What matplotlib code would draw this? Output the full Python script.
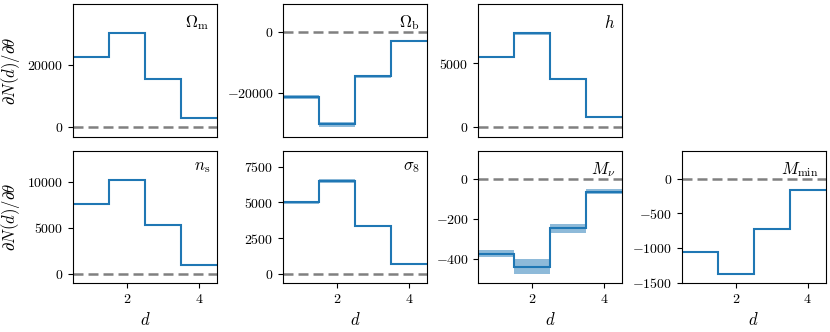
import matplotlib
matplotlib.use("Agg")
import matplotlib.pyplot as plt
from matplotlib.ticker import FuncFormatter
import numpy as np

plt.rcParams['font.family'] = 'serif'
plt.rcParams['font.serif'] = ['cmr10', 'DejaVu Serif']
plt.rcParams['mathtext.fontset'] = 'cm'
plt.rcParams['axes.formatter.use_mathtext'] = True

# bin edges of d
edges = [0.5, 1.5, 2.5, 3.5, 4.5]

labels = [r'$\Omega_{\rm m}$', r'$\Omega_{\rm b}$', r'$h$',
          r'$n_{\rm s}$', r'$\sigma_8$', r'$M_\nu$', r'$M_{\rm min}$']

deriv_Om = [22470, 30300, 15500, 3080]
err_Om = [200, 350, 200, 60]
deriv_Ob = [-21300, -30450, -14570, -2980]
err_Ob = [600, 900, 500, 150]
deriv_h = [5515, 7340, 3800, 780]
err_h = [60, 110, 50, 20]
deriv_ns = [7580, 10180, 5310, 1010]
err_ns = [90, 150, 80, 20]
deriv_s8 = [5010, 6480, 3350, 700]
err_s8 = [90, 150, 80, 20]
deriv_Mnu = [-372, -436, -245, -63]
err_Mnu = [18, 37, 22, 12]
deriv_Mmin = [-1055, -1375, -720, -155]
err_Mmin = [8, 10, 6, 3]

derivs = [deriv_Om, deriv_Ob, deriv_h, deriv_ns, deriv_s8, deriv_Mnu, deriv_Mmin]
errs = [err_Om, err_Ob, err_h, err_ns, err_s8, err_Mnu, err_Mmin]
ylims = [(-3000, 39500), (-34570, 9270), (-734, 9610), (-1010, 13360),
         (-650, 8616), (-519, 141), (-1510, 410)]
yticks = [[0, 20000], [-20000, 0], [0, 5000], [0, 5000, 10000],
          [0, 2500, 5000, 7500], [-400, -200, 0], [-1500, -1000, -500, 0]]

fmt = FuncFormatter(lambda v, pos: r'$%d$' % round(v))

fig = plt.figure(figsize=(8.3, 3.32), dpi=100)
W, H = 830, 332
lefts = [73, 283.3, 478.3, 681.7]
tops = [4.3, 150.7]
aw, ah = 144, 132.5

slots = [(0, 0), (0, 1), (0, 2), (1, 0), (1, 1), (1, 2), (1, 3)]
for k, (r, c) in enumerate(slots):
    ax = fig.add_axes([lefts[c] / W, 1 - (tops[r] + ah) / H, aw / W, ah / H])
    y = np.array(derivs[k])
    e = np.array(errs[k])
    ax.stairs(y + e, edges, baseline=y - e, fill=True, color='C0', alpha=0.5, lw=0)
    ax.stairs(y, edges, color='C0', lw=1.5, baseline=None)
    ax.axhline(0, color='gray', ls=(0, (4, 2)), lw=1.8)
    ax.set_xlim(0.5, 4.5)
    ax.set_ylim(*ylims[k])
    ax.set_yticks(yticks[k])
    ax.yaxis.set_major_formatter(fmt)
    ax.xaxis.set_major_formatter(fmt)
    ax.text(0.95, 0.93, labels[k], transform=ax.transAxes, ha='right', va='top', fontsize=12)
    ax.tick_params(labelsize=10)
    if r == 0:
        ax.set_xticks([])
    else:
        ax.set_xticks([2, 4])
        ax.set_xlabel(r'$d$', fontsize=12)
    if c == 0:
        ax.set_ylabel(r'$\partial N(d)/\partial\theta$', fontsize=12)

fig.savefig('out.png', dpi=100)
